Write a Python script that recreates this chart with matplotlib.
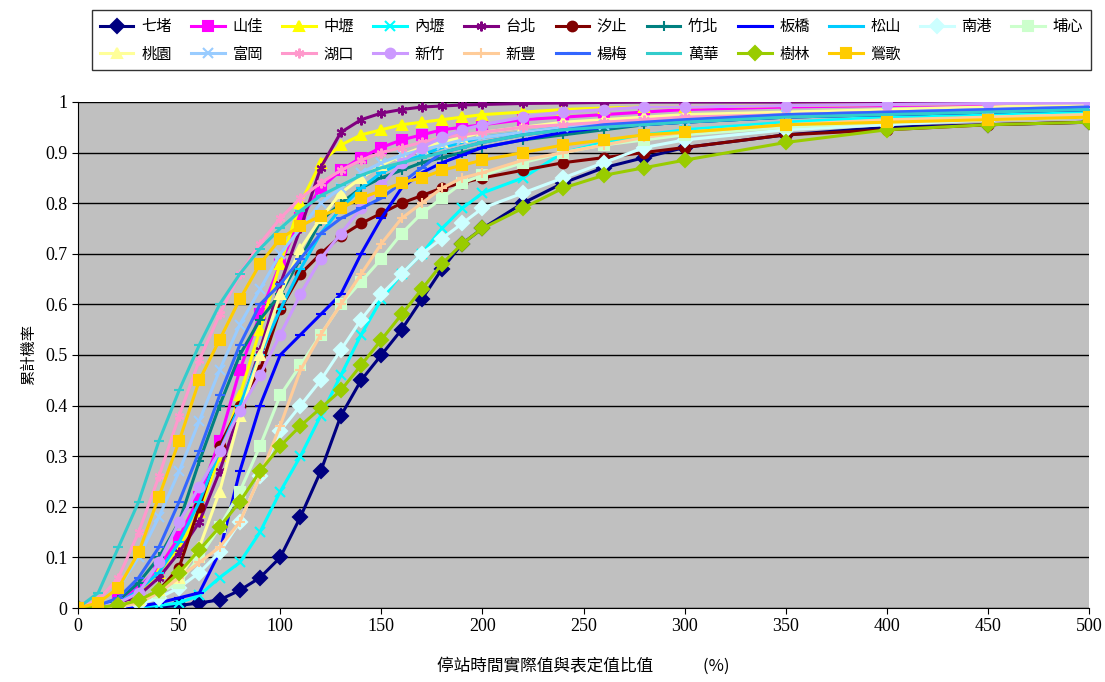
import matplotlib.pyplot as plt
import numpy as np

plt.rcParams['font.family'] = ['Liberation Serif', 'Noto Sans CJK TC', 'DejaVu Sans']

# 停站時間實際值與表定值比值 (%)
x = [0, 10, 20, 30, 40, 50, 60, 70, 80, 90, 100, 110, 120, 130, 140, 150, 160, 170, 180, 190,
     200, 220, 240, 260, 280, 300, 350, 400, 450, 500]

qidu = [0, 0, 0, 0, 0.002, 0.005, 0.01, 0.016, 0.035, 0.06, 0.10, 0.18, 0.27, 0.38, 0.45, 0.50,
        0.55, 0.61, 0.67, 0.72, 0.75, 0.80, 0.84, 0.87, 0.89, 0.91, 0.935, 0.95, 0.955, 0.96]
shanjia = [0, 0.003, 0.015, 0.04, 0.08, 0.14, 0.22, 0.33, 0.47, 0.58, 0.68, 0.77, 0.83, 0.865, 0.89,
           0.91, 0.925, 0.935, 0.945, 0.95, 0.955, 0.965, 0.97, 0.975, 0.98, 0.985, 0.99, 0.993, 0.995, 0.997]
zhongli = [0, 0, 0.01, 0.03, 0.07, 0.12, 0.19, 0.30, 0.42, 0.55, 0.68, 0.80, 0.88, 0.915, 0.935,
           0.945, 0.955, 0.96, 0.965, 0.97, 0.975, 0.98, 0.985, 0.988, 0.99, 0.99, 0.993, 0.995, 0.997, 0.998]
neili = [0, 0, 0, 0.002, 0.005, 0.01, 0.025, 0.06, 0.09, 0.15, 0.23, 0.30, 0.38, 0.46, 0.54, 0.61,
         0.66, 0.70, 0.75, 0.79, 0.82, 0.85, 0.90, 0.92, 0.935, 0.945, 0.96, 0.97, 0.975, 0.98]
taipei = [0, 0, 0.005, 0.025, 0.06, 0.11, 0.17, 0.27, 0.39, 0.51, 0.64, 0.75, 0.87, 0.94, 0.965,
          0.978, 0.985, 0.99, 0.992, 0.994, 0.995, 0.997, 0.998, 0.999, 1, 1, 1, 1, 1, 1]
xizhi = [0, 0, 0.005, 0.015, 0.035, 0.08, 0.20, 0.32, 0.40, 0.47, 0.59, 0.66, 0.70, 0.735, 0.76,
         0.78, 0.80, 0.815, 0.83, 0.84, 0.85, 0.865, 0.88, 0.89, 0.90, 0.91, 0.935, 0.945, 0.955, 0.96]
zhubei = [0, 0.003, 0.015, 0.05, 0.10, 0.17, 0.29, 0.40, 0.50, 0.57, 0.62, 0.69, 0.765, 0.80, 0.83,
          0.85, 0.865, 0.88, 0.89, 0.90, 0.91, 0.925, 0.935, 0.945, 0.955, 0.96, 0.97, 0.975, 0.98, 0.985]
banqiao = [0, 0, 0, 0.003, 0.01, 0.02, 0.03, 0.11, 0.27, 0.40, 0.50, 0.54, 0.58, 0.62, 0.70, 0.77,
           0.83, 0.86, 0.88, 0.895, 0.91, 0.925, 0.94, 0.95, 0.955, 0.96, 0.97, 0.975, 0.98, 0.985]
songshan = [0, 0.002, 0.01, 0.035, 0.07, 0.13, 0.21, 0.31, 0.40, 0.50, 0.59, 0.67, 0.74, 0.79, 0.83,
            0.86, 0.88, 0.895, 0.91, 0.92, 0.93, 0.94, 0.95, 0.955, 0.96, 0.965, 0.975, 0.98, 0.985, 0.99]
nangang = [0, 0, 0.002, 0.008, 0.02, 0.04, 0.07, 0.11, 0.17, 0.26, 0.35, 0.40, 0.45, 0.51, 0.57,
           0.62, 0.66, 0.70, 0.73, 0.76, 0.79, 0.82, 0.85, 0.88, 0.91, 0.925, 0.945, 0.955, 0.965, 0.97]
puxin = [0, 0, 0.005, 0.015, 0.03, 0.05, 0.10, 0.16, 0.23, 0.32, 0.42, 0.48, 0.54, 0.60, 0.645,
         0.69, 0.74, 0.78, 0.81, 0.84, 0.855, 0.88, 0.90, 0.915, 0.925, 0.935, 0.95, 0.96, 0.97, 0.975]
taoyuan = [0, 0, 0.005, 0.015, 0.035, 0.06, 0.12, 0.23, 0.38, 0.50, 0.62, 0.71, 0.77, 0.82, 0.85,
           0.875, 0.895, 0.91, 0.92, 0.93, 0.94, 0.95, 0.96, 0.965, 0.97, 0.975, 0.98, 0.985, 0.99, 0.995]
fugang = [0, 0.01, 0.04, 0.10, 0.18, 0.27, 0.37, 0.47, 0.56, 0.63, 0.70, 0.75, 0.80, 0.83, 0.86,
          0.88, 0.895, 0.905, 0.915, 0.925, 0.93, 0.94, 0.95, 0.955, 0.96, 0.965, 0.975, 0.98, 0.985, 0.99]
hukou = [0, 0.015, 0.06, 0.15, 0.26, 0.38, 0.49, 0.58, 0.66, 0.72, 0.77, 0.81, 0.84, 0.865, 0.885,
         0.90, 0.91, 0.92, 0.93, 0.935, 0.94, 0.95, 0.955, 0.96, 0.965, 0.97, 0.975, 0.98, 0.985, 0.99]
xinzhu = [0, 0.002, 0.01, 0.03, 0.09, 0.17, 0.24, 0.31, 0.39, 0.46, 0.54, 0.62, 0.69, 0.74, 0.79,
          0.835, 0.88, 0.91, 0.93, 0.945, 0.955, 0.97, 0.98, 0.985, 0.99, 0.99, 0.993, 0.995, 0.997, 0.998]
xinfeng = [0, 0, 0.002, 0.01, 0.03, 0.06, 0.09, 0.12, 0.17, 0.26, 0.36, 0.47, 0.54, 0.60, 0.66,
           0.72, 0.77, 0.80, 0.83, 0.85, 0.86, 0.885, 0.90, 0.915, 0.93, 0.94, 0.955, 0.965, 0.97, 0.975]
yangmei = [0, 0.005, 0.02, 0.06, 0.12, 0.21, 0.31, 0.42, 0.52, 0.60, 0.64, 0.69, 0.74, 0.77, 0.79,
           0.81, 0.84, 0.87, 0.90, 0.91, 0.92, 0.935, 0.945, 0.955, 0.96, 0.965, 0.975, 0.98, 0.985, 0.99]
wanhua = [0, 0.03, 0.12, 0.21, 0.33, 0.43, 0.52, 0.60, 0.66, 0.71, 0.75, 0.785, 0.815, 0.835, 0.855,
          0.87, 0.88, 0.89, 0.90, 0.91, 0.92, 0.935, 0.945, 0.95, 0.955, 0.96, 0.97, 0.975, 0.98, 0.985]
shulin = [0, 0.002, 0.005, 0.015, 0.035, 0.07, 0.115, 0.16, 0.21, 0.27, 0.32, 0.36, 0.395, 0.43, 0.48,
          0.53, 0.58, 0.63, 0.68, 0.72, 0.75, 0.79, 0.83, 0.855, 0.87, 0.885, 0.92, 0.945, 0.955, 0.96]
yingge = [0, 0.01, 0.04, 0.11, 0.22, 0.33, 0.45, 0.53, 0.61, 0.68, 0.73, 0.755, 0.775, 0.79, 0.81,
          0.825, 0.84, 0.85, 0.865, 0.875, 0.885, 0.90, 0.915, 0.925, 0.935, 0.94, 0.955, 0.96, 0.965, 0.97]

names = ['七堵', '山佳', '中壢', '內壢', '台北', '汐止', '竹北', '板橋', '松山', '南港',
         '埔心', '桃園', '富岡', '湖口', '新竹', '新豐', '楊梅', '萬華', '樹林', '鶯歌']
series = [qidu, shanjia, zhongli, neili, taipei, xizhi, zhubei, banqiao, songshan, nangang,
          puxin, taoyuan, fugang, hukou, xinzhu, xinfeng, yangmei, wanhua, shulin, yingge]

colors = ['#000080', '#FF00FF', '#FFFF00', '#00FFFF', '#800080', '#800000', '#008080', '#0000FF',
          '#00CCFF', '#CCFFFF', '#CCFFCC', '#FFFF99', '#99CCFF', '#FF99CC', '#CC99FF', '#FFCC99',
          '#3366FF', '#33CCCC', '#99CC00', '#FFCC00']
markers = ['D', 's', '^', 'x', (6, 2, 0), 'o', '+', '_', '_', 'D',
           's', '^', 'x', (6, 2, 0), 'o', '+', '_', '_', 'D', 's']

fig = plt.figure(figsize=(11.05, 6.82), dpi=100)
ax = fig.add_axes([0.0706, 0.1085, 0.915, 0.742])
ax.set_facecolor('#C0C0C0')

handles = []
for name, y, c, m in zip(names, series, colors, markers):
    h, = ax.plot(x, y, color=c, lw=2.2, marker=m, markersize=7, markeredgewidth=1.5,
                 markerfacecolor=c, markeredgecolor=c, label=name)
    handles.append(h)

ax.set_xlim(0, 500)
ax.set_ylim(0, 1)
ax.set_xticks(np.arange(0, 501, 50))
ax.set_yticks(np.arange(0, 1.01, 0.1))
ax.set_yticklabels(['0'] + ['%.1f' % v for v in np.arange(0.1, 0.95, 0.1)] + ['1'])
ax.grid(axis='y', color='black', lw=1)
ax.set_axisbelow(True)
for s in ['top', 'right']:
    ax.spines[s].set_visible(False)
ax.spines['left'].set_color('black')
ax.spines['bottom'].set_color('black')
ax.tick_params(labelsize=13, direction='out', length=4)

ax.set_ylabel('累計機率', family=['Noto Sans CJK TC'], fontsize=11, labelpad=6)
ax.set_xlabel('停站時間實際值與表定值比值　　　(%)', family=['Noto Sans CJK TC', 'Liberation Serif'],
              fontsize=12, labelpad=16)

# legend fills column by column: reorder so the rows read 七堵..埔心 / 桃園..鶯歌
order = []
for j in range(11):
    order.append(j)
    if j + 11 < len(handles):
        order.append(j + 11)
leg = fig.legend([handles[i] for i in order], [names[i] for i in order],
                 loc='upper center', bbox_to_anchor=(0.5353, 0.985),
                 ncol=11, frameon=True, fancybox=False, edgecolor='black', handlelength=2.2,
                 handletextpad=0.5, columnspacing=1.27, borderaxespad=0, borderpad=0.5,
                 labelspacing=0.7, prop={'family': ['Noto Sans CJK TC'], 'size': 11})
leg.get_frame().set_linewidth(1)

plt.savefig('out.png')
plt.close()
